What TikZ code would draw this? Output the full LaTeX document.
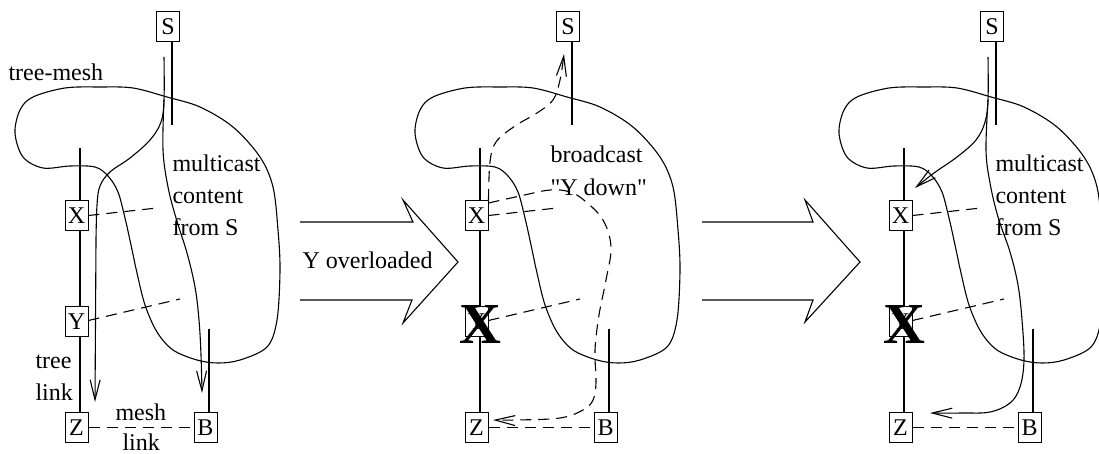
\documentclass[tikz,border=0pt]{standalone}
\usepackage{fontspec}
\setmainfont{Liberation Serif}[Ligatures=TeXOff]
\usetikzlibrary{arrows.meta}
\begin{document}
\begin{tikzpicture}[x=1pt,y=-1pt,line width=1.1pt,
  every node/.style={inner sep=0pt},
  nodebox/.style={draw,line width=1pt,fill=white,minimum width=23pt,minimum height=30pt,
    font=\fontsize{24}{28}\selectfont},
  lbl/.style={anchor=base west,font=\fontsize{24}{28}\selectfont},
  meshlink/.style={dash pattern=on 11pt off 7pt},
  flow/.style={-{Straight Barb[length=20pt,width=10pt]}},
  crossout/.style={font=\fontsize{58}{58}\selectfont\bfseries},
  bigarrow/.style={line join=miter}]
\useasboundingbox (0,0) rectangle (1099,454);

% common part of each panel: nodes, tree links, mesh links, tree-mesh outline
\newcommand\drawpanel{%
  \node[nodebox] (S) at (168,27) {S};
  \node[nodebox] (X) at (76.5,215.5) {X};
  \node[nodebox] (Y) at (76.5,321.5) {Y};
  \node[nodebox] (Z) at (76.5,427.5) {Z};
  \node[nodebox] (B) at (205.5,427.5) {B};
  \coordinate (Sfoot) at (172,125);
  \coordinate (Xtop) at (80,148);
  \coordinate (Btop) at (209,329);
  \coordinate (Xmesh) at (157,208);
  \coordinate (Ymesh) at (180,299);
  \draw ([xshift=4pt]S.south) -- (Sfoot);
  \draw (Xtop) -- ([xshift=3.5pt]X.north);
  \draw ([xshift=3.5pt]X.south) -- ([xshift=3.5pt]Y.north);
  \draw ([xshift=3.5pt]Y.south) -- ([xshift=3.5pt]Z.north);
  \draw ([xshift=3.5pt]B.north) -- (Btop);
  \draw[meshlink] (X.east) -- (Xmesh);
  \draw[meshlink] ([yshift=1pt]Y.east) -- (Ymesh);
  \draw[meshlink] (Z.east) -- (B.west);
  \draw plot[smooth cycle, tension=0.55] coordinates {
    (100,87) (133,88) (167,97) (200,107) (233,127) (260,157) (273,187)
    (278,230) (280,270) (277,320) (267,347) (240,360) (218,363) (197,360)
    (173,350) (157,332) (145,305) (137,273) (131,245) (125,218) (118,192)
    (108,176) (95,167) (70,166) (43,168) (23,157) (15,133) (20,110)
    (33,97) (65,88)};
}

% left panel: tree-mesh multicast
\begin{scope}[name prefix=p1-]
  \drawpanel
  \node[lbl] (tm) at (8,81) {tree-mesh};
  \node[lbl] (m1) at (172,172) {multicast};
  \node[lbl] (m2) at (172,204) {content};
  \node[lbl] (m3) at (172,236) {from S};
  \node[lbl] (t1) at (35,368) {tree};
  \node[lbl] (t2) at (35,400) {link};
  \node[lbl] (k1) at (115,420) {mesh};
  \node[lbl] (k2) at (122,450) {link};
  \draw[flow] plot[smooth, tension=0.6] coordinates {(164,57) (164,100)
    (161,122) (150,140) (130,158) (110,172) (100,186) (97,205) (96,240)}
    -- (95,402);
  \draw[flow] plot[smooth, tension=0.6] coordinates {(164,100) (163,150)
    (168,187) (176,218) (187,253) (195,287) (199,320) (201,355) (202,393)};
\end{scope}

% first transition
\draw[bigarrow] (300,222) -- (413,222) -- (403,200) -- (458,262)
  -- (403,323) -- (412,300) -- (300,300);
\node[lbl] (ovl) at (302,268) {Y overloaded};

% middle panel: X broadcasts that Y is down
\begin{scope}[xshift=400pt, name prefix=p2-]
  \drawpanel
  \node[crossout] (cross) at (80,325) {X};
  \node[lbl] (b1) at (150,163) {broadcast};
  \node[lbl] (b2) at (150,196) {"Y down"};
  \draw[meshlink, flow] plot[smooth, tension=0.6] coordinates {(X.north east)
    (90,162) (96,142) (115,126) (137,113) (153,100) (160,80) (164,54)};
  \draw[meshlink, flow] plot[smooth, tension=0.6] coordinates
    {([yshift=-3pt]X.north east) (120,196) (150,190) (170,192) (185,201)
    (203,220) (211,247) (206,280) (199,315) (195,350) (196,382) (193,400)
    (183,410) (160,418) (117,420) (93,420)};
\end{scope}

% second transition
\draw[bigarrow] (702,222) -- (813,222) -- (805,200) -- (860,262)
  -- (805,322) -- (813,300) -- (702,300);

% right panel: repaired multicast
\begin{scope}[xshift=824pt, name prefix=p3-]
  \drawpanel
  \node[crossout] (cross) at (80,325) {X};
  \node[lbl] (m1) at (171,172) {multicast};
  \node[lbl] (m2) at (171,204) {content};
  \node[lbl] (m3) at (171,236) {from S};
  \draw[flow] plot[smooth, tension=0.6] coordinates {(164,57) (164,100)
    (161,122) (152,140) (133,157) (110,173) (91,188)};
  \draw[flow] plot[smooth, tension=0.6] coordinates {(164,100) (162,150)
    (166,183) (174,217) (186,252) (194,285) (198,320) (200,360) (196,387)
    (186,403) (166,412) (139,413) (106,413)};
\end{scope}
\end{tikzpicture}
\end{document}
